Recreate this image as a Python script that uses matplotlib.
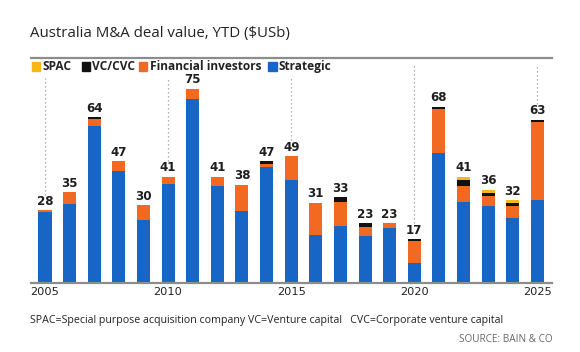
import numpy as np
import matplotlib.pyplot as plt
from matplotlib.patches import Rectangle

years = np.arange(2005, 2026)
totals = [28, 35, 64, 47, 30, 41, 75, 41, 38, 47, 49, 31, 33, 23, 23, 17, 68, 41, 36, 32, 63]
strategic = [27.3, 30.4, 60.7, 43.2, 24.3, 38.3, 71.0, 37.3, 27.6, 44.7, 39.7, 18.5, 22.0, 18.2, 21.1, 7.6, 50.1, 31.1, 29.9, 25.2, 32.2]
financial = [0.7, 4.6, 2.4, 3.8, 5.7, 2.7, 4.0, 3.7, 10.4, 1.3, 9.3, 12.5, 9.4, 3.3, 1.9, 8.8, 16.9, 6.3, 3.6, 4.7, 29.9]
vc_cvc = [0, 0, 0.9, 0, 0, 0, 0, 0, 0, 1.0, 0, 0, 1.6, 1.5, 0, 0.6, 1.0, 2.2, 1.1, 1.1, 0.9]
spac = [0, 0, 0, 0, 0, 0, 0, 0, 0, 0, 0, 0, 0, 0, 0, 0, 0, 1.4, 1.4, 1.0, 0]
series = ["SPAC", "VC/CVC", "Financial investors", "Strategic"]
colors = ["#F7B718", "#111111", "#F26A22", "#1766C6"]
tick_years = [2005, 2010, 2015, 2020, 2025]

# scale components so each stack reaches its labelled total
strategic = np.array(strategic)
financial = np.array(financial)
vc_cvc = np.array(vc_cvc)
spac = np.array(spac)
f = np.array(totals) / (strategic + financial + vc_cvc + spac)
stacks = [strategic * f, financial * f, vc_cvc * f, spac * f]
stack_colors = [colors[3], colors[2], colors[1], colors[0]]

fig = plt.figure(figsize=(5.8, 3.52), dpi=100)
ax = fig.add_axes([0.0534, 0.196, 0.8986, 0.639])

bottom = np.zeros(len(years))
for vals, c in zip(stacks, stack_colors):
    ax.bar(years, vals, bottom=bottom, width=0.53, color=c, linewidth=0)
    bottom += vals

for x, t in zip(years, totals):
    ax.text(x, t + 0.9, str(t), ha="center", va="bottom", fontsize=8.6,
            fontweight="bold", family="DejaVu Sans", color="#1e1e1e")

for x in tick_years:
    t = totals[x - 2005]
    top = 79 if x < 2020 else 84.5
    ax.plot([x, x], [t + 6, top], color="#9a9a9a", lw=0.9, ls=(0, (1, 2.2)))

ax.set_xlim(2004.43, 2025.6)
ax.set_ylim(0, 86.8)
ax.set_xticks(tick_years)
ax.set_xticklabels([str(y) for y in tick_years], family="DejaVu Sans", fontsize=8.2, color="#222222")
ax.tick_params(axis="x", length=0, pad=3)
ax.set_yticks([])
for s in ["left", "right"]:
    ax.spines[s].set_visible(False)
ax.spines["top"].set_color("#8c8c8c")
ax.spines["top"].set_linewidth(1.6)
ax.spines["bottom"].set_color("#8c8c8c")
ax.spines["bottom"].set_linewidth(1.6)

fig.text(0.052, 0.906, "Australia M&A deal value, YTD ($USb)", fontsize=10.8,
         family="Open Sans", color="#222222", va="center")

# legend drawn by hand
leg_x = [31.7, 81.7, 139, 268]
leg_y = 352 - 66.7
for lx, name, c in zip(leg_x, series, colors):
    fig.patches.append(Rectangle((lx / 580, (leg_y - 4.2) / 352), 8.5 / 580, 8.5 / 352,
                                 transform=fig.transFigure, color=c))
    fig.text((lx + 10.5) / 580, leg_y / 352, name, fontsize=8.6, fontweight="bold",
             family="Open Sans", color="#222222", va="center")

fig.text(0.052, (352 - 321) / 352,
         "SPAC=Special purpose acquisition company VC=Venture capital   CVC=Corporate venture capital",
         fontsize=7.7, family="Open Sans", color="#222222", va="center")
fig.text(0.952, (352 - 339) / 352, "SOURCE: BAIN & CO", fontsize=7.2,
         family="Open Sans", color="#666666", va="center", ha="right")

fig.savefig("out.png", dpi=100)
